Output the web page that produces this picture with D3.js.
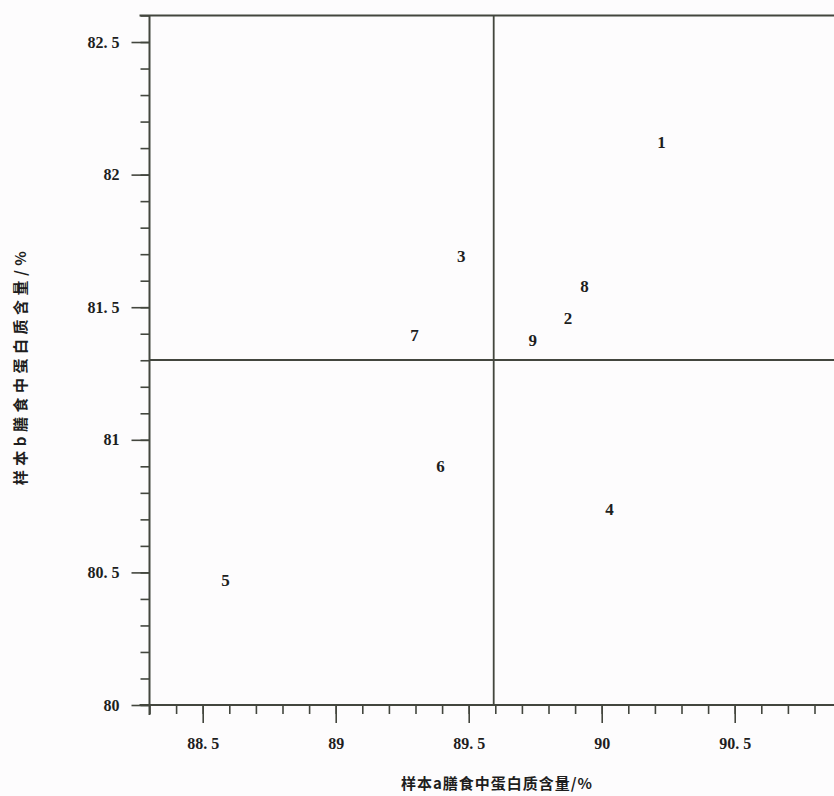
<!DOCTYPE html>
<html>
<head>
<meta charset="utf-8">
<script src="https://cdn.jsdelivr.net/npm/d3@7"></script>
<style>
  html, body { margin: 0; padding: 0; background: #fdfcfd; }
  svg { display: block; }
</style>
</head>
<body>
<script>
// Youden plot: protein content of sample a vs sample b for nine labs
const labs     = ["1", "2", "3", "4", "5", "6", "7", "8", "9"];
const sampleA  = [90.225, 89.873, 89.472, 90.029, 88.586, 89.394, 89.296, 89.935, 89.741];
const sampleB  = [82.12, 81.458, 81.69, 80.739, 80.471, 80.899, 81.395, 81.577, 81.376];
const meanA = 89.594;
const meanB = 81.301;

const xMajor = [88.5, 89, 89.5, 90, 90.5];
const xMajorLabels = ["88. 5", "89", "89. 5", "90", "90. 5"];
const yMajor = [80, 80.5, 81, 81.5, 82, 82.5];
const yMajorLabels = ["80", "80. 5", "81", "81. 5", "82", "82. 5"];

const xTitle = "样本a膳食中蛋白质含量/%";
const yTitle = "样本b膳食中蛋白质含量/%";

const W = 834, H = 796;
const svg = d3.select("body").append("svg").attr("width", W).attr("height", H);

const x = d3.scaleLinear().domain([88.3, 91]).range([149.5, 867.7]);
const y = d3.scaleLinear().domain([80, 82.6]).range([705, 15.5]);

const lineColor = "#43463e";
const textColor = "#1e1e1e";
const numFont = "'Liberation Serif', 'DejaVu Serif', serif";
const cjkFont = "'Noto Sans CJK SC', 'Noto Sans', sans-serif";

// minor ticks every 0.1
const xMinor = d3.range(88.3, 91.0001, 0.1).map(v => +v.toFixed(1));
const yMinor = d3.range(80, 82.6001, 0.1).map(v => +v.toFixed(1));

// x axis
const gx = svg.append("g").attr("transform", `translate(0,${y(80)})`);
gx.call(d3.axisBottom(x).tickValues(xMinor).tickSize(9).tickFormat(""));
gx.call(g => g.selectAll(".tick line").attr("stroke", lineColor).attr("stroke-width", 1.6));
const gx2 = svg.append("g").attr("transform", `translate(0,${y(80)})`);
gx2.call(d3.axisBottom(x).tickValues(xMajor).tickSize(18).tickPadding(15)
  .tickFormat((d, i) => xMajorLabels[i]));
gx2.select(".domain").remove();
gx2.selectAll(".tick line").attr("stroke", lineColor).attr("stroke-width", 1.6);
gx2.selectAll(".tick text").attr("fill", textColor).attr("font-family", numFont)
  .attr("font-size", 16).attr("font-weight", "bold");
gx.select(".domain").attr("stroke", lineColor).attr("stroke-width", 2)
  .attr("d", `M${x(88.3) - 10},0H${W + 10}`);

// y axis
const gy = svg.append("g").attr("transform", `translate(${x(88.3)},0)`);
gy.call(d3.axisLeft(y).tickValues(yMinor).tickSize(9).tickFormat(""));
gy.selectAll(".tick line").attr("stroke", lineColor).attr("stroke-width", 1.6);
gy.select(".domain").attr("stroke", lineColor).attr("stroke-width", 2)
  .attr("d", `M0,${y(82.6)}V${y(80) + 10}`);
const gy2 = svg.append("g").attr("transform", `translate(${x(88.3)},0)`);
gy2.call(d3.axisLeft(y).tickValues(yMajor).tickSize(18).tickPadding(12)
  .tickFormat((d, i) => yMajorLabels[i]));
gy2.select(".domain").remove();
gy2.selectAll(".tick line").attr("stroke", lineColor).attr("stroke-width", 1.6);
gy2.selectAll(".tick text").attr("fill", textColor).attr("font-family", numFont)
  .attr("font-size", 16).attr("font-weight", "bold");

// top border
svg.append("line")
  .attr("x1", x(88.3) - 10).attr("x2", W + 10)
  .attr("y1", y(82.6)).attr("y2", y(82.6))
  .attr("stroke", lineColor).attr("stroke-width", 2);

// mean lines
svg.append("line")
  .attr("x1", x(meanA)).attr("x2", x(meanA))
  .attr("y1", y(82.6)).attr("y2", y(80))
  .attr("stroke", lineColor).attr("stroke-width", 1.8);
svg.append("line")
  .attr("x1", x(88.3)).attr("x2", W + 10)
  .attr("y1", y(meanB)).attr("y2", y(meanB))
  .attr("stroke", lineColor).attr("stroke-width", 1.8);

// lab numbers as point markers
svg.append("g").selectAll("text")
  .data(labs.map((l, i) => ({ l, a: sampleA[i], b: sampleB[i] })))
  .join("text")
  .attr("x", d => x(d.a)).attr("y", d => y(d.b))
  .attr("text-anchor", "middle").attr("dominant-baseline", "central")
  .attr("font-family", numFont).attr("font-size", 17).attr("font-weight", "bold")
  .attr("fill", textColor)
  .text(d => d.l);

// axis titles
svg.append("text")
  .attr("x", 497).attr("y", 782)
  .attr("text-anchor", "middle").attr("dominant-baseline", "central")
  .attr("font-family", cjkFont).attr("font-size", 15).attr("font-weight", "bold")
  .attr("letter-spacing", 1)
  .attr("fill", textColor)
  .text(xTitle);
svg.append("text")
  .attr("transform", "translate(19,366) rotate(-90)")
  .attr("text-anchor", "middle").attr("dominant-baseline", "central")
  .attr("font-family", cjkFont).attr("font-size", 15).attr("font-weight", "bold")
  .attr("letter-spacing", 4.5)
  .attr("fill", textColor)
  .text(yTitle);
</script>
</body>
</html>
